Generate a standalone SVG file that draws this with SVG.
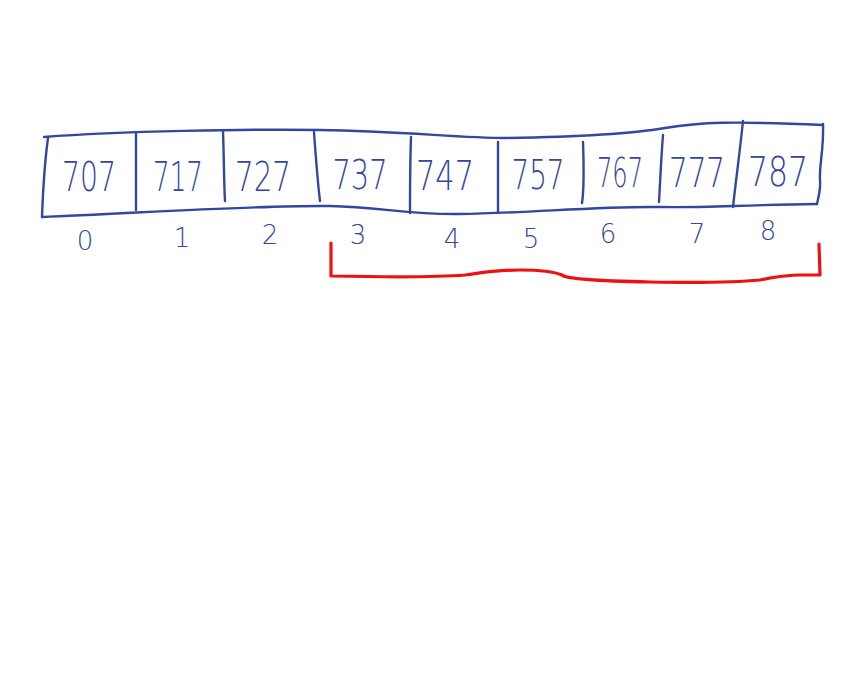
<svg xmlns="http://www.w3.org/2000/svg" width="860" height="675" viewBox="0 0 860 675">
<style>
.ink{fill:none;stroke:#3346a0;stroke-width:2.4;stroke-linecap:round;stroke-linejoin:round}
.val{font-family:"DejaVu Sans","Liberation Sans",sans-serif;font-weight:200;font-size:40px;fill:#3346a0;text-anchor:middle}
.idx{font-family:"DejaVu Sans","Liberation Sans",sans-serif;font-weight:200;font-size:26px;fill:#3346a0;text-anchor:middle}
.red{fill:none;stroke:#ee1111;stroke-width:3.2;stroke-linecap:round;stroke-linejoin:round}
</style>
<rect width="860" height="675" fill="#ffffff"/>
<g id="array-outline">
<path class="ink" d="M44,137 C120,131 250,129 320,130 C400,131 460,138 505,138 C570,137 630,134 665,128 C700,122 730,121 823,125"/>
<path class="ink" d="M42,217 C140,213 260,205 330,206 C380,207 410,215 460,214 C530,213 600,206 660,207 C700,208 740,205 817,204"/>
<path class="ink" d="M48,138 C45,160 43,190 42,217"/>
<path class="ink" d="M823,124 C824,150 819,165 820,180 C821,190 818,198 817,204"/>
</g>
<g id="cell-0"><text class="val" x="89" y="191" textLength="54" lengthAdjust="spacingAndGlyphs">707</text><text class="idx" x="85" y="250">0</text></g>
<g id="cell-1"><path class="ink" d="M136,134 L136,210"/><text class="val" x="178" y="191" textLength="50" lengthAdjust="spacingAndGlyphs">717</text><text class="idx" x="182" y="247">1</text></g>
<g id="cell-2"><path class="ink" d="M223,131 C224,160 224,185 225,201"/><text class="val" x="263" y="191" textLength="56" lengthAdjust="spacingAndGlyphs">727</text><text class="idx" x="270" y="244">2</text></g>
<g id="cell-3"><path class="ink" d="M314,132 C316,160 318,185 320,201"/><text class="val" x="360" y="189" textLength="55" lengthAdjust="spacingAndGlyphs">737</text><text class="idx" x="358" y="244">3</text></g>
<g id="cell-4"><path class="ink" d="M411,137 C410,165 410,190 410,213"/><text class="val" x="445" y="190" textLength="58" lengthAdjust="spacingAndGlyphs">747</text><text class="idx" x="452" y="248">4</text></g>
<g id="cell-5"><path class="ink" d="M498,142 L498,212"/><text class="val" x="538" y="189" textLength="53" lengthAdjust="spacingAndGlyphs">757</text><text class="idx" x="531" y="248">5</text></g>
<g id="cell-6"><path class="ink" d="M583,142 C584,170 584,190 582,203"/><text class="val" x="620" y="187" textLength="46" lengthAdjust="spacingAndGlyphs">767</text><text class="idx" x="608" y="243">6</text></g>
<g id="cell-7"><path class="ink" d="M663,135 C661,160 660,185 659,202"/><text class="val" x="697" y="187" textLength="56" lengthAdjust="spacingAndGlyphs">777</text><text class="idx" x="697" y="243">7</text></g>
<g id="cell-8"><path class="ink" d="M743,121 C740,150 736,180 733,207"/><text class="val" x="778" y="186" textLength="60" lengthAdjust="spacingAndGlyphs">787</text><text class="idx" x="768" y="240">8</text></g>
<g id="connectors">
<path class="red" d="M331,243 L331,276 C380,277 440,277 465,275 C480,273 495,270 520,270 C540,270 555,272 562,275 C566,279 600,281 650,282 C700,283 740,282 760,280 C775,277 780,276 800,275 L820,275 L819,244"/>
</g>
</svg>
